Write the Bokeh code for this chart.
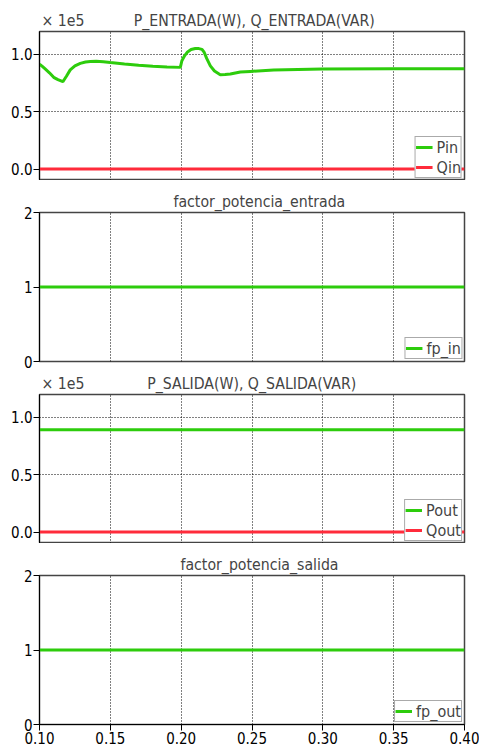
from bokeh.plotting import figure
from bokeh.layouts import column
from bokeh.models import Range1d, FixedTicker, Legend, LegendItem, NumeralTickFormatter
from bokeh.embed import file_html
from bokeh.resources import INLINE

# ---- data (power values in units of 1e5) ----
t_pin = [0.100, 0.102, 0.104, 0.107, 0.110, 0.113, 0.1165, 0.119, 0.1217, 0.125,
         0.1288, 0.1325, 0.1358, 0.140, 0.145, 0.150, 0.160, 0.170, 0.180, 0.190,
         0.1994, 0.2005, 0.2025, 0.2045, 0.207, 0.210, 0.2125, 0.2147, 0.2163, 0.218,
         0.2206, 0.2235, 0.2276, 0.231, 0.2347, 0.2418, 0.2488, 0.2653, 0.2995, 0.350, 0.400]
pin = [0.915, 0.895, 0.873, 0.84, 0.80, 0.78, 0.762, 0.81, 0.865, 0.90,
       0.922, 0.934, 0.939, 0.940, 0.936, 0.929, 0.917, 0.906, 0.897, 0.891,
       0.887, 0.945, 0.99, 1.022, 1.043, 1.052, 1.051, 1.044, 1.017, 0.965,
       0.90, 0.855, 0.823, 0.825, 0.829, 0.846, 0.852, 0.864, 0.873, 0.875, 0.875]
t_span = [0.10, 0.40]
qin = [0.0, 0.0]
pout = [0.893, 0.893]
qout = [0.0, 0.0]
fp_in = [1.0, 1.0]
fp_out = [1.0, 1.0]

x_ticks = [0.10, 0.15, 0.20, 0.25, 0.30, 0.35, 0.40]
p_ticks = [0.0, 0.5, 1.0]
fp_ticks = [0, 1, 2]

scale_text = "\u00d7 1e5"
titles = ["P_ENTRADA(W), Q_ENTRADA(VAR)", "factor_potencia_entrada",
          "P_SALIDA(W), Q_SALIDA(VAR)", "factor_potencia_salida"]

GREEN = "#2dcc0c"
RED = "#ff2b3b"
FONT = "DejaVu Sans Condensed, DejaVu Sans"
NBSP = "\u00a0"


def make_fig(title_text, offset, yrange, yticks, top, bottom, show_x, fmt):
    p = figure(frame_width=425, frame_height=149, output_backend="svg",
               toolbar_location=None, min_border_left=39, min_border_right=15,
               min_border_top=top, min_border_bottom=bottom,
               x_range=Range1d(0.10, 0.40), y_range=Range1d(*yrange),
               background_fill_color="white", border_fill_color="white")
    p.title.text = title_text
    p.title.align = "left"
    p.title.offset = offset
    p.title.text_font = FONT
    p.title.text_font_size = "15.7px"
    p.title.text_font_style = "normal"
    p.title.standoff = 3
    p.outline_line_color = "#444444"
    p.outline_line_width = 1.5
    for ax in (p.xaxis[0], p.yaxis[0]):
        ax.axis_line_color = "black"
        ax.major_tick_line_color = "black"
        ax.minor_tick_line_color = None
        ax.major_tick_out = 6
        ax.major_tick_in = 0
        ax.major_label_text_font = FONT
        ax.major_label_text_font_size = "15px"
        ax.major_label_text_color = "black"
        ax.major_label_standoff = 1
    p.xaxis.ticker = FixedTicker(ticks=x_ticks)
    p.xaxis.formatter = NumeralTickFormatter(format="0.00")
    p.yaxis.formatter = NumeralTickFormatter(format=fmt)
    p.yaxis.ticker = FixedTicker(ticks=yticks)
    p.xgrid.ticker = FixedTicker(ticks=x_ticks)
    p.ygrid.ticker = FixedTicker(ticks=yticks)
    for g in (p.xgrid[0], p.ygrid[0]):
        g.grid_line_color = "#000000"
        g.grid_line_dash = "1 2"
        g.grid_line_width = 1
    if not show_x:
        p.xaxis.visible = False
    return p


def add_legend(p, items):
    leg = Legend(items=items, location="bottom_right", margin=2, padding=0,
                 spacing=0, label_standoff=4, glyph_width=17, glyph_height=20,
                 label_height=20, label_text_font=FONT, label_text_font_size="16px",
                 border_line_color="#555555", border_line_width=1.5,
                 background_fill_color="white", background_fill_alpha=1.0)
    p.add_layout(leg)


p1 = make_fig(scale_text + NBSP * 11 + titles[0], 2,
              (-0.1, 1.2), p_ticks, 31, 0, False, "0.0")
r_qin = p1.line(t_span, qin, line_color=RED, line_width=3)
r_pin = p1.line(t_pin, pin, line_color=GREEN, line_width=3)
add_legend(p1, [LegendItem(label="Pin", renderers=[r_pin]),
                LegendItem(label="Qin", renderers=[r_qin])])

p2 = make_fig(titles[1], 134, (0, 2), fp_ticks, 32, 9, False, "0")
r_fpi = p2.line(t_span, fp_in, line_color=GREEN, line_width=3)
add_legend(p2, [LegendItem(label="fp_in", renderers=[r_fpi])])

p3 = make_fig(scale_text + NBSP * 14 + titles[2], 2,
              (-0.1, 1.2), p_ticks, 23, 0, False, "0.0")
r_qout = p3.line(t_span, qout, line_color=RED, line_width=3)
r_pout = p3.line(t_span, pout, line_color=GREEN, line_width=3)
add_legend(p3, [LegendItem(label="Pout", renderers=[r_pout]),
                LegendItem(label="Qout", renderers=[r_qout])])

p4 = make_fig(titles[3], 141, (0, 2), fp_ticks, 32, 20, True, "0")
r_fpo = p4.line(t_span, fp_out, line_color=GREEN, line_width=3)
add_legend(p4, [LegendItem(label="fp_out", renderers=[r_fpo])])

layout = column(p1, p2, p3, p4, spacing=0)
open("out.html", "w").write(file_html(layout, INLINE))
